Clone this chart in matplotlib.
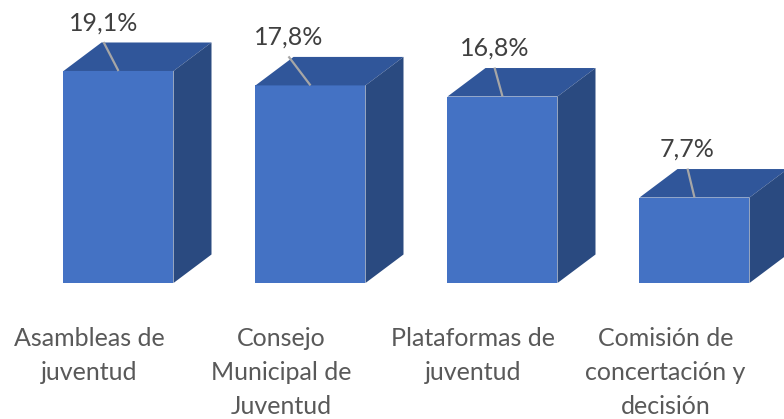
import matplotlib
matplotlib.use("Agg")
import matplotlib.pyplot as plt
from matplotlib.patches import Polygon

categories = ["Asambleas de\njuventud", "Consejo\nMunicipal de\nJuventud",
              "Plataformas de\njuventud", "Comisión de\nconcertación y\ndecisión"]
values = [19.1, 17.8, 16.8, 7.7]
value_labels = ["19,1%", "17,8%", "16,8%", "7,7%"]

W, H = 784, 419
fig = plt.figure(figsize=(W / 100, H / 100), dpi=100)
ax = fig.add_axes([0, 0, 1, 1])

# pixel-based scale helpers
PX_CAT = 192.0      # pixels per category
PX_PCT = 11.1       # pixels per percent
X0 = 118.5          # pixel x of first bar center
Y0 = 283.0          # pixel y of baseline
ax.set_xlim(-X0 / PX_CAT, (W - X0) / PX_CAT)
ax.set_ylim(-(H - Y0) / PX_PCT, Y0 / PX_PCT)
ax.axis("off")

bw = 110 / PX_CAT           # front face width
ddx = 38 / PX_CAT           # depth offset x
ddy = 28.5 / PX_PCT         # depth offset y

front_c = "#4472C4"
top_c = "#30569A"
side_c = "#2A4A80"

lab_dx = [-15, -22, -8, -7]   # label x offsets in px (layout)
font = ["Lato", "DejaVu Sans"]

for i, v in enumerate(values):
    xl, xr = i - bw / 2, i + bw / 2
    ax.add_patch(Polygon([(xl, 0), (xr, 0), (xr, v), (xl, v)], closed=True,
                         facecolor=front_c, edgecolor="none", zorder=3))
    ax.add_patch(Polygon([(xl, v), (xr, v), (xr + ddx, v + ddy), (xl + ddx, v + ddy)],
                         closed=True, facecolor=top_c, edgecolor="none", zorder=3))
    ax.add_patch(Polygon([(xr, 0), (xr + ddx, ddy), (xr + ddx, v + ddy), (xr, v)],
                         closed=True, facecolor=side_c, edgecolor="none", zorder=3))
    # value label + leader line
    lx = i + lab_dx[i] / PX_CAT
    ly_text = v + 48 / PX_PCT
    ly_start = v + 29 / PX_PCT
    ax.plot([lx, i], [ly_start, v], color="#A6A6A6", lw=1.6, zorder=4,
            solid_capstyle="butt")
    ax.text(lx, ly_text, value_labels[i], ha="center", va="center",
            fontsize=18, color="#404040", family=font, zorder=5)
    # category label
    ax.text(i - 29 / PX_CAT, -(327 - Y0) / PX_PCT, categories[i], ha="center",
            va="top", fontsize=18, color="#595959", family=font,
            linespacing=1.57, zorder=5)

fig.savefig("out.png", dpi=100)
